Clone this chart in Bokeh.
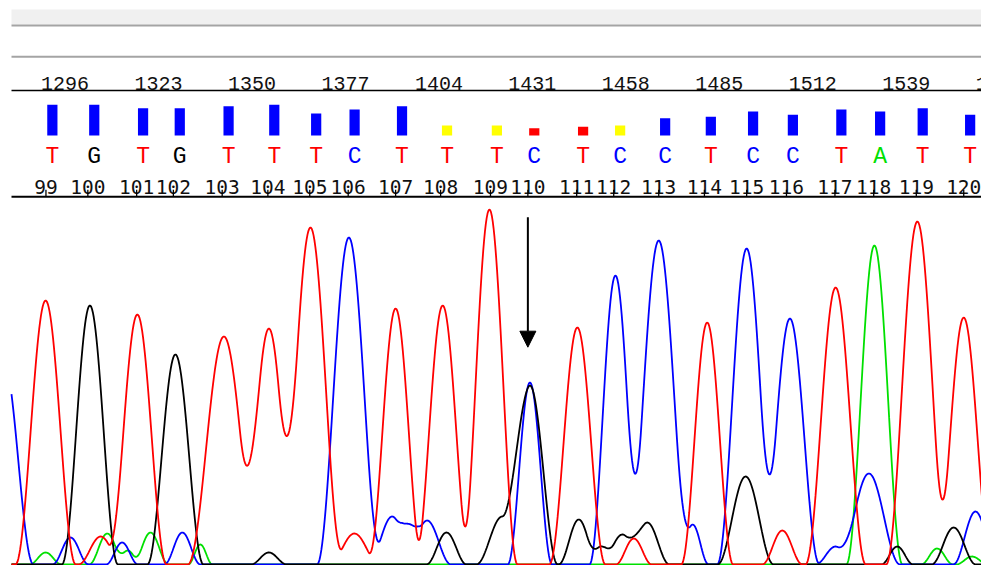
import numpy as np
from bokeh.plotting import figure
from bokeh.models import Range1d, Arrow, NormalHead
from bokeh.core.properties import value
from bokeh.embed import file_html
from bokeh.resources import INLINE

# ---------------- data ----------------
scan_ticks = [1296, 1323, 1350, 1377, 1404, 1431, 1458, 1485, 1512, 1539, 1566]

base_numbers = [99, 100, 101, 102, 103, 104, 105, 106, 107, 108, 109,
                110, 111, 112, 113, 114, 115, 116, 117, 118, 119, 120]
base_calls = ["T", "G", "T", "G", "T", "T", "T", "C", "T", "T", "T",
              "C", "T", "C", "C", "T", "C", "C", "T", "A", "T", "T"]
base_scans = [1290.5, 1302.6, 1316.7, 1327.3, 1341.4, 1354.6, 1366.7, 1377.8,
              1391.5, 1404.5, 1418.9, 1429.7, 1443.8, 1454.5, 1467.5, 1480.7,
              1492.9, 1504.4, 1518.4, 1529.6, 1541.9, 1555.6]
quality = [46, 46, 41, 41, 44, 46, 33, 39, 44, 15, 15,
           11, 13, 15, 26, 28, 36, 31, 39, 36, 41, 31]

# trace peaks per channel: scan position, amplitude, half width (scans)
t_pos = [1290.4, 1306.3, 1316.9, 1341.9, 1354.9, 1366.9, 1379.6, 1391.5, 1405.1,
         1418.6, 1444.0, 1460.3, 1481.5, 1503.2, 1518.6, 1542.2, 1555.6]
t_amp = [264, 28, 250, 228, 236, 337, 31, 256, 259, 355, 237, 26, 242, 34, 277, 343, 247]
t_wid = [8.7, 6.4, 8.4, 10.4, 8.4, 9.2, 7.2, 7.8, 8.0, 8.1, 8.1, 5.2, 7.5, 5.8, 8.7, 9.0, 8.1]

g_pos = [1303.2, 1327.9, 1354.9, 1406.2, 1422.3, 1430.3, 1444.4, 1450.7, 1457.0,
         1464.2, 1492.6, 1536.4, 1552.7]
g_amp = [259, 210, 12, 32, 48, 179, 45, 18, 30, 42, 88, 18, 37]
g_wid = [8.1, 8.1, 5.2, 5.8, 7.5, 8.0, 5.8, 4.0, 6.4, 6.4, 8.1, 4.6, 6.4]

c_pos = [1278.2, 1297.6, 1312.5, 1329.9, 1378.0, 1390.5, 1395.5, 1400.6, 1430.3,
         1455.0, 1467.5, 1477.3, 1492.9, 1505.4, 1518.6, 1528.2, 1559.0]
c_amp = [205, 27, 22, 32, 327, 48, 25, 44, 182, 289, 324, 40, 316, 246, 18, 91, 53]
c_wid = [8.7, 5.2, 4.6, 5.2, 9.2, 6.9, 4.0, 6.9, 6.4, 7.5, 9.2, 4.6, 8.5, 8.5, 5.8, 9.0, 6.4]

a_pos = [1290.4, 1308.2, 1314.1, 1320.7, 1335.1, 1529.8, 1547.9, 1558.0]
a_amp = [12, 31, 14, 32, 20, 319, 16, 8]
a_wid = [4.6, 5.2, 4.0, 5.2, 3.5, 8.1, 4.6, 4.6]

# ---------------- styling / layout ----------------
W, H = 981, 565
PX_PER_SCAN = 3.462
X0 = 1296 - 64.5 / PX_PER_SCAN
X1 = X0 + W / PX_PER_SCAN
VIS_LEFT = X0 + 11 / PX_PER_SCAN

CALL_COLORS = {"T": "#ff0000", "G": "#000000", "C": "#0000ff", "A": "#00e000"}
TRACE_COLORS = {"A": "#00e000", "C": "#0000ff", "G": "#000000", "T": "#ff0000"}


def qv_color(q):
    if q >= 20:
        return "#0000ff"
    if q >= 15:
        return "#ffff00"
    return "#ff0000"


p = figure(width=W, height=H, x_range=Range1d(X0, X1), y_range=Range1d(H, 0),
           output_backend="svg", toolbar_location=None, min_border=0,
           x_axis_location=None, y_axis_location=None)
p.grid.visible = False
p.outline_line_color = None
p.background_fill_color = "white"
p.border_fill_color = "white"
p.extra_y_ranges = {"qv": Range1d(-645, 202.5), "signal": Range1d(-1, 564)}

# header band and rules
p.quad(left=VIS_LEFT, right=X1 + 5, top=9, bottom=24, fill_color="#f0f0f0", line_color=None)
p.segment(x0=[VIS_LEFT, VIS_LEFT], y0=[25, 56.3], x1=[X1 + 5, X1 + 5], y1=[25, 56.3],
          line_color="#a4a4a4", line_width=2)
p.segment(x0=VIS_LEFT, y0=90, x1=X1 + 5, y1=90, line_color="black", line_width=1.5)
p.segment(x0=VIS_LEFT, y0=196.3, x1=X1 + 5, y1=196.3, line_color="black", line_width=2)

# scan numbers
p.text(x=scan_ticks, y=[83.3] * len(scan_ticks), text=[str(s) for s in scan_ticks],
       text_font=value("Liberation Mono"), text_font_size="20px", text_color="#111111",
       text_align="center", text_baseline="alphabetic")

# quality bars
bar_x = [b + 1.85 for b in base_scans]
p.vbar(x=bar_x, width=2.95, bottom=0, top=quality, y_range_name="qv",
       fill_color=[qv_color(q) for q in quality], line_color=None)

# base calls
p.text(x=bar_x, y=[156.7] * len(base_calls), text=base_calls,
       text_color=[CALL_COLORS[b] for b in base_calls],
       text_font=value("Liberation Mono"), text_font_size="23px",
       text_align="center", text_baseline="alphabetic")

# base numbers and ticks
p.text(x=base_scans, y=[186] * len(base_numbers), text=[str(n) for n in base_numbers],
       text_font=value("DejaVu Sans Mono"), text_font_size="19.5px", text_color="#111111",
       text_align="center", text_baseline="alphabetic")
p.segment(x0=base_scans, y0=[189.3] * len(base_scans), x1=base_scans, y1=[196] * len(base_scans),
          line_color="black", line_width=1.3)

# traces
scan = np.arange(VIS_LEFT, X1 + 2, 0.25)


def trace(pos, amp, wid):
    y = np.zeros_like(scan)
    for c, a, w in zip(pos, amp, wid):
        d = np.abs(scan - c)
        m = d < w
        y[m] += a * np.cos(np.pi * d[m] / (2 * w)) ** 2
    return y


for ch, (pos, amp, wid) in [("A", (a_pos, a_amp, a_wid)), ("C", (c_pos, c_amp, c_wid)),
                            ("G", (g_pos, g_amp, g_wid)), ("T", (t_pos, t_amp, t_wid))]:
    p.line(scan, trace(pos, amp, wid), y_range_name="signal",
           line_color=TRACE_COLORS[ch], line_width=1.8)

# arrow at base 110
xa = base_scans[base_numbers.index(110)]
p.add_layout(Arrow(x_start=xa, y_start=216.7, x_end=xa, y_end=346.7, line_width=2,
                   line_color="black",
                   end=NormalHead(size=16, fill_color="black", line_color="black", line_width=1)))

open("out.html", "w").write(file_html(p, INLINE))
